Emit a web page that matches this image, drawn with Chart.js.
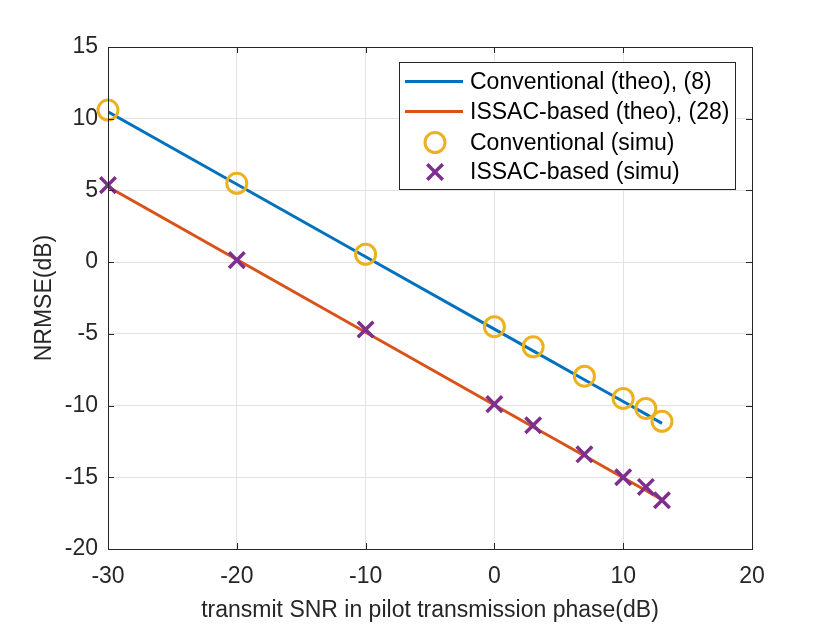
<!DOCTYPE html>
<html>
<head>
<meta charset="utf-8">
<script src="https://cdn.jsdelivr.net/npm/chart.js@4/dist/chart.umd.min.js"></script>
<style>
html,body{margin:0;padding:0;background:#fff;}
#wrap{width:830px;height:625px;}
</style>
</head>
<body>
<div id="wrap"><canvas id="c" width="830" height="625"></canvas></div>
<script>
// ---- data ----
const snrDb = [-30, -20, -10, 0, 3.01, 6.99, 10, 11.76, 13.01];
const convTheo = [10.48, 5.43, 0.38, -4.67, -6.19, -8.2, -9.72, -10.6, -11.24];
const issacTheo = [5.25, 0.18, -4.89, -9.96, -11.49, -13.5, -15.03, -15.92, -16.56];
const convSimu = [10.6, 5.5, 0.55, -4.5, -5.9, -7.95, -9.5, -10.2, -11.1];
const issacSimu = [5.37, 0.14, -4.7, -9.9, -11.37, -13.4, -15.0, -15.67, -16.6];
const seriesLabels = ['Conventional (theo), (8)', 'ISSAC-based (theo), (28)', 'Conventional (simu)', 'ISSAC-based (simu)'];
const xTicks = [-30, -20, -10, 0, 10, 20];
const yTicks = [-20, -15, -10, -5, 0, 5, 10, 15];

const FONT = 'Liberation Sans, Arial, Helvetica, sans-serif';
const AX = '#262626';
const toXY = (ys) => snrDb.map((x, i) => ({x: x, y: ys[i]}));

const boxPlugin = {
  id: 'boxPlugin',
  afterDatasetsDraw(chart) {
    const ctx = chart.ctx, a = chart.chartArea;
    const xs = chart.scales.x, ys = chart.scales.y;
    ctx.save();
    ctx.strokeStyle = AX; ctx.lineWidth = 1;
    const tl = 6;
    ctx.beginPath();
    xTicks.forEach(v => {
      const px = Math.round(xs.getPixelForValue(v)) + 0.5;
      ctx.moveTo(px, a.bottom); ctx.lineTo(px, a.bottom - tl);
      ctx.moveTo(px, a.top); ctx.lineTo(px, a.top + tl);
    });
    yTicks.forEach(v => {
      const py = Math.round(ys.getPixelForValue(v)) + 0.5;
      ctx.moveTo(a.left, py); ctx.lineTo(a.left + tl, py);
      ctx.moveTo(a.right, py); ctx.lineTo(a.right - tl, py);
    });
    ctx.stroke();
    ctx.strokeRect(Math.round(a.left) + 0.5, Math.round(a.top) + 0.5, Math.round(a.right - a.left), Math.round(a.bottom - a.top));
    ctx.restore();
  },
  afterDraw(chart) {
    // legend
    const ctx = chart.ctx;
    const lx = 399, ly = 62, lw = 336, lh = 127;
    ctx.save();
    ctx.fillStyle = '#fff';
    ctx.fillRect(lx, ly, lw, lh);
    ctx.strokeStyle = AX; ctx.lineWidth = 1;
    ctx.strokeRect(lx + 0.5, ly + 0.5, lw, lh);
    const rows = [81.5, 111.5, 142.5, 172];
    const ds = chart.data.datasets;
    ctx.font = '23px ' + FONT;
    ctx.textBaseline = 'middle';
    ctx.textAlign = 'left';
    seriesLabels.forEach((lab, i) => {
      const d = ds.find(dd => dd.label === lab);
      const y = rows[i];
      ctx.strokeStyle = d.borderColor; ctx.lineWidth = d.borderWidth;
      if (d.showLine !== false) {
        ctx.beginPath(); ctx.moveTo(405, y); ctx.lineTo(463, y); ctx.stroke();
      } else {
        ctx.fillStyle = 'rgba(0,0,0,0)';
        Chart.helpers.drawPoint(ctx, {pointStyle: d.pointStyle, radius: d.pointRadius, borderWidth: d.borderWidth, rotation: 0}, 435, y);
      }
      ctx.fillStyle = '#000';
      ctx.fillText(lab, 470, y + 1);
    });
    ctx.restore();
  }
};

new Chart(document.getElementById('c'), {
  type: 'scatter',
  data: {
    datasets: [
      {label: seriesLabels[2], data: toXY(convSimu), showLine: false, clip: false, pointStyle: 'circle', pointRadius: 10, borderWidth: 3, borderColor: '#EDB120', backgroundColor: 'rgba(0,0,0,0)', order: 0},
      {label: seriesLabels[3], data: toXY(issacSimu), showLine: false, clip: false, pointStyle: 'crossRot', pointRadius: 11, borderWidth: 3.5, borderColor: '#7E2F8E', backgroundColor: '#7E2F8E', order: 0},
      {label: seriesLabels[0], data: toXY(convTheo), showLine: true, pointRadius: 0, borderWidth: 3, borderColor: '#0072BD', backgroundColor: '#0072BD', order: 1},
      {label: seriesLabels[1], data: toXY(issacTheo), showLine: true, pointRadius: 0, borderWidth: 3, borderColor: '#D95319', backgroundColor: '#D95319', order: 1}
    ]
  },
  options: {
    responsive: false,
    animation: false,
    layout: {padding: {left: 0, right: 78, top: 47, bottom: 0}},
    plugins: {legend: {display: false}, tooltip: {enabled: false}},
    elements: {line: {tension: 0}, point: {hoverRadius: 10}},
    scales: {
      x: {
        type: 'linear', min: -30, max: 20,
        afterBuildTicks: (s) => { s.ticks = xTicks.map(v => ({value: v})); },
        afterFit: (s) => { s.height = 76; },
        grid: {color: '#e3e3e3', drawTicks: false, lineWidth: 1},
        border: {display: false},
        ticks: {color: AX, font: {family: FONT, size: 23}, padding: 14, maxRotation: 0},
        title: {display: true, text: 'transmit SNR in pilot transmission phase(dB)', color: AX, font: {family: FONT, size: 23, lineHeight: 1}, padding: {top: 0, bottom: 3}}
      },
      y: {
        type: 'linear', min: -20, max: 15,
        afterBuildTicks: (s) => { s.ticks = yTicks.map(v => ({value: v})); },
        afterFit: (s) => { s.width = 108; },
        grid: {color: '#e3e3e3', drawTicks: false, lineWidth: 1},
        border: {display: false},
        ticks: {color: AX, font: {family: FONT, size: 23}, padding: 10},
        title: {display: true, text: 'NRMSE(dB)', color: AX, font: {family: FONT, size: 23, lineHeight: 1}, padding: {top: 33, bottom: 0}}
      }
    }
  },
  plugins: [boxPlugin]
});
</script>
</body>
</html>
